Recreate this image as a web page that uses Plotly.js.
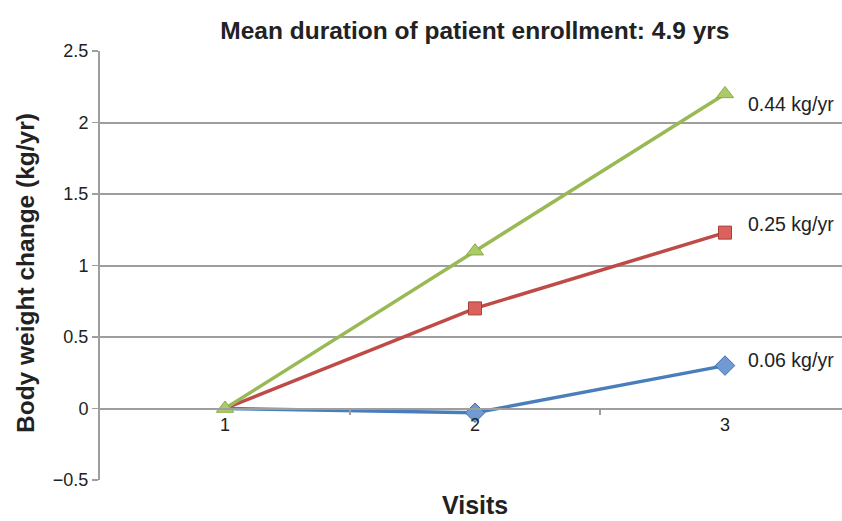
<!DOCTYPE html>
<html>
<head>
<meta charset="utf-8">
<script src="https://cdn.plot.ly/plotly-3.0.1.min.js"></script>
<style>html,body{margin:0;padding:0;background:#fff;}#chart{width:842px;height:521px;}</style>
</head>
<body>
<div id="chart"></div>
<script>
const visits = [1, 2, 3];
const visitLabels = ['1', '2', '3'];
const seriesNames = ['Low', 'Mid', 'High'];
const lowValues = [0, -0.03, 0.30];
const midValues = [0, 0.70, 1.23];
const highValues = [0, 1.10, 2.20];
const rateLabels = ['0.06 kg/yr', '0.25 kg/yr', '0.44 kg/yr'];
const yTicks = [-0.5, 0, 0.5, 1, 1.5, 2, 2.5];
const yTickText = ['\u22120.5', '0', '0.5', '1', '1.5', '2', '2.5'];
const xTitle = 'Visits';
const yTitle = 'Body weight change (kg/yr)';
const chartTitle = 'Mean duration of patient enrollment: 4.9 yrs';

const FONT = 'Liberation Sans, Arial, sans-serif';
const styles = [
  {line: '#4A7EBB', fill: '#6F9BD2', border: '#3F6FA8', symbol: 'diamond', size: [0, 15, 15]},
  {line: '#BE4B48', fill: '#DB615D', border: '#A83F3C', symbol: 'square', size: [0, 13, 13]},
  {line: '#98B954', fill: '#AACB68', border: '#8AAA48', symbol: 'triangle-up', size: [15, 15, 15]}
];
const allValues = [lowValues, midValues, highValues];
const drawOrder = [1, 0, 2];

const traces = drawOrder.map(i => ({
  x: visits,
  y: allValues[i],
  name: seriesNames[i],
  type: 'scatter',
  mode: 'lines+markers',
  line: {color: styles[i].line, width: 3.5},
  marker: {symbol: styles[i].symbol, size: styles[i].size, color: styles[i].fill, opacity: 1,
           line: {color: styles[i].border, width: 1}},
  cliponaxis: false,
  hoverinfo: 'skip'
}));

const yshifts = [6, 9, -10];
const annotations = allValues.map((vals, i) => ({
  x: visits[visits.length - 1],
  y: vals[vals.length - 1],
  xref: 'x', yref: 'y',
  text: rateLabels[i],
  showarrow: false,
  xanchor: 'left',
  yanchor: 'middle',
  xshift: 21,
  yshift: yshifts[i],
  font: {family: FONT, size: 19.5, color: '#222'}
}));

annotations.push({
  xref: 'paper', yref: 'paper',
  x: -75 / 742, y: (480 - 273) / 429,
  xanchor: 'center', yanchor: 'middle',
  text: '<b>' + yTitle + '</b>',
  textangle: -90,
  showarrow: false,
  font: {family: FONT, size: 24.5, color: '#222'}
});
annotations.push({
  xref: 'paper', yref: 'paper',
  x: 375 / 742, y: (480 - 521) / 429,
  xanchor: 'center', yanchor: 'bottom',
  text: '<b>' + xTitle + '</b>',
  showarrow: false,
  font: {family: FONT, size: 25, color: '#222'}
});

const zeroFrac = (0 - (-0.5)) / (2.5 - (-0.5));

const layout = {
  width: 842,
  height: 521,
  margin: {l: 100, r: 0, t: 51, b: 41},
  paper_bgcolor: '#fff',
  plot_bgcolor: '#fff',
  showlegend: false,
  title: {
    text: '<b>' + chartTitle + '</b>',
    font: {family: FONT, size: 24.5, color: '#222'},
    xref: 'container', x: 0.564, xanchor: 'center',
    yref: 'container', y: 1 - 30 / 521, yanchor: 'middle'
  },
  xaxis: {
    type: 'linear',
    range: [0.5, 3.468],
    tickmode: 'array',
    tickvals: visits,
    ticktext: visitLabels,
    ticks: '',
    showgrid: false,
    zeroline: false,
    showline: true,
    linecolor: '#9E9E9E',
    linewidth: 2,
    anchor: 'free',
    position: zeroFrac,
    tickfont: {family: FONT, size: 18, color: '#222'},
    minor: {tickmode: 'array', tickvals: [1.5, 2.5], ticks: 'outside', ticklen: 5, tickcolor: '#9E9E9E', tickwidth: 1.5, showgrid: false}
  },
  yaxis: {
    range: [-0.5, 2.5],
    tickmode: 'array',
    tickvals: yTicks,
    ticktext: yTickText,
    ticks: 'outside',
    ticklen: 6,
    tickcolor: '#9E9E9E',
    tickwidth: 1.5,
    showgrid: true,
    gridcolor: '#9E9E9E',
    gridwidth: 2,
    zeroline: false,
    showline: true,
    linecolor: '#9E9E9E',
    linewidth: 2,
    tickfont: {family: FONT, size: 18, color: '#222'}
  },
  annotations: annotations
};

Plotly.newPlot('chart', traces, layout, {displayModeBar: false, staticPlot: true});
</script>
</body>
</html>
